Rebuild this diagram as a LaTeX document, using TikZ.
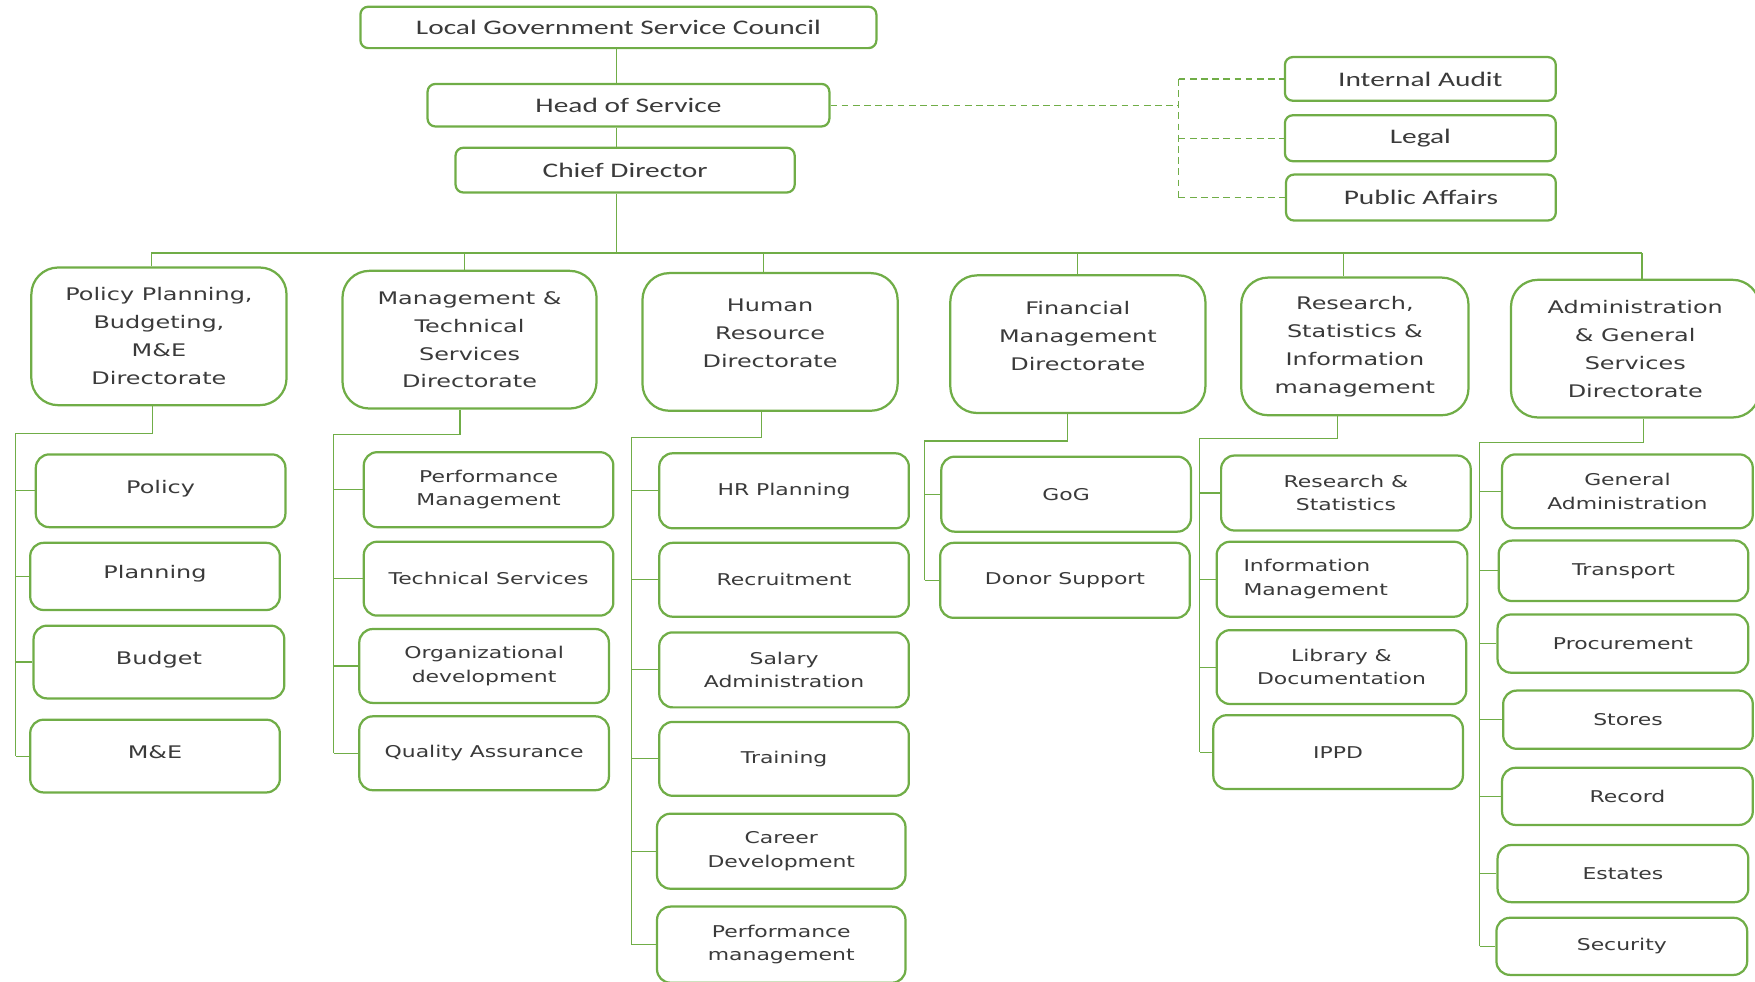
\documentclass[tikz,border=0pt]{standalone}
\usepackage{fontspec}
\newfontfamily\topfont[FakeStretch=1.42]{Carlito}
\newfontfamily\dirfont[FakeStretch=1.38]{DejaVu Sans}
\newfontfamily\subfont[FakeStretch=1.35]{DejaVu Sans}
\definecolor{orggreen}{HTML}{70AD47}
\definecolor{orgtext}{HTML}{3A3A3A}
\begin{document}
\begin{tikzpicture}[x=1pt,y=-1pt,
		topbox/.style={draw=orggreen, line width=2pt, rounded corners=7pt, inner sep=0pt, text=orgtext, font=\topfont\fontsize{18.5}{22}\selectfont},
		dirbox/.style={draw=orggreen, line width=2pt, rounded corners=24pt, inner sep=0pt, align=center, text=orgtext, minimum height=123pt, font=\dirfont\fontsize{15.5}{25}\selectfont},
		subbox/.style={draw=orggreen, line width=2pt, rounded corners=12pt, inner sep=0pt, align=center, text=orgtext, font=\subfont\fontsize{14.5}{21}\selectfont},
		bigsub/.style={subbox, font=\dirfont\fontsize{15.5}{21}\selectfont},
		link/.style={draw=orggreen, line width=1pt},
		dlink/.style={draw=orggreen, line width=1.2pt, dash pattern=on 6pt off 4pt}]
			\useasboundingbox (0,0) rectangle (1568,877);

			%top
			\node[topbox, minimum width=461pt, minimum height=37pt] (lgsc) at (552.5,24.5) {Local Government Service Council};
			\node[topbox, minimum width=359pt, minimum height=38pt] (hos) at (561.5,94) {Head of Service};
			\node[topbox, minimum width=303pt, minimum height=40pt] (cd) at (558.5,152) {Chief Director};

			\node[topbox, minimum width=242pt, minimum height=39pt] (audit) at (1269,70.5) {Internal Audit};
			\node[topbox, minimum width=242pt, minimum height=41pt] (legal) at (1269,123.5) {Legal};
			\node[topbox, minimum width=241pt, minimum height=41pt] (pubaff) at (1269.5,176.5) {Public Affairs};

			\coordinate (spine) at (551,43);
			\draw[link] (spine) -- (spine |- hos.north);
			\draw[link] (spine |- hos.south) -- (spine |- cd.north);

			\coordinate (dv) at (1053,94);
			\draw[dlink] (hos.east) -- (dv);
			\draw[dlink] (dv |- audit.west) -- (dv |- pubaff.west);
			\foreach \s in {audit,legal,pubaff}
				\draw[dlink] (dv |- \s.west) -- (\s.west);

			%directorates
			\node[dirbox, minimum width=228pt] (ppb) at (142,300.5) {Policy Planning,\\Budgeting,\\M\&E\\Directorate};
			\node[dirbox, minimum width=227pt] (mts) at (419.5,303.5) {Management \&\\Technical\\Services\\Directorate};
			\node[dirbox, minimum width=228pt] (hrd) at (688,305.5) {Human\\Resource\\Directorate\\[-10pt]\mbox{}};
			\node[dirbox, minimum width=228pt] (fmd) at (963,307.5) {Financial\\Management\\Directorate\\[-10pt]\mbox{}};
			\node[dirbox, minimum width=203pt] (rsi) at (1210.5,309.5) {Research,\\Statistics \&\\Information\\management};
			\node[dirbox, minimum width=222pt] (ags) at (1461,311.5) {Administration\\\& General\\Services\\Directorate};

			\coordinate (busl) at (135,226);
			\coordinate (busr) at (1467,226);
			\draw[link] (busl) -- (busr);
			\draw[link] (spine |- cd.south) -- (spine |- busl);
			\foreach \d/\x in {ppb/135,mts/415,hrd/682,fmd/963,rsi/1200,ags/1467}{
				\coordinate (t\d) at (\x,226);
				\draw[link] (t\d) -- (t\d |- \d.north);
			}

			%policy planning
			\node[bigsub, minimum width=223pt, minimum height=65pt] (pol) at (143.5,438.5) {\raisebox{7pt}{Policy}};
			\node[bigsub, minimum width=223pt, minimum height=60pt] (pla) at (138.5,515) {\raisebox{8pt}{Planning}};
			\node[bigsub, minimum width=224pt, minimum height=65pt] (bud) at (142,591.5) {\raisebox{7pt}{Budget}};
			\node[bigsub, minimum width=223pt, minimum height=65pt] (mae) at (138.5,675.5) {\raisebox{7pt}{M\&E}};

			%management and technical
			\node[subbox, minimum width=223pt, minimum height=67pt] (pmg) at (436.5,437.5) {Performance\\Management};
			\node[subbox, minimum width=223pt, minimum height=66pt] (tsv) at (436.5,517) {Technical Services};
			\node[subbox, minimum width=223pt, minimum height=66pt] (odv) at (432.5,595) {Organizational\\development};
			\node[subbox, minimum width=223pt, minimum height=66pt] (qas) at (432.5,673) {Quality Assurance};

			%human resource
			\node[subbox, minimum width=223pt, minimum height=67pt] (hrp) at (700.5,438.5) {HR Planning};
			\node[subbox, minimum width=223pt, minimum height=66pt] (rec) at (700.5,518) {Recruitment};
			\node[subbox, minimum width=223pt, minimum height=67pt] (sal) at (700.5,598.5) {Salary\\Administration};
			\node[subbox, minimum width=223pt, minimum height=66pt] (trn) at (700.5,678) {Training};
			\node[subbox, minimum width=222pt, minimum height=67pt] (car) at (698,760.5) {Career\\Development};
			\node[subbox, minimum width=222pt, minimum height=68pt] (pfm) at (698,844) {Performance\\management};

			%financial
			\node[subbox, minimum width=223pt, minimum height=67pt] (gog) at (952.5,441.5) {GoG};
			\node[subbox, minimum width=223pt, minimum height=67pt] (don) at (951.5,518.5) {Donor Support};

			%research
			\node[subbox, minimum width=223pt, minimum height=67pt] (rst) at (1202.5,440.5) {Research \&\\Statistics};
			\node[subbox, minimum width=224pt, minimum height=67pt, text width=176pt, align=left] (inf) at (1199,517.5) {Information\\Management};
			\node[subbox, minimum width=223pt, minimum height=66pt] (lib) at (1198.5,596) {Library \&\\Documentation};
			\node[subbox, minimum width=223pt, minimum height=66pt] (ipp) at (1195.5,672) {IPPD};

			%administration
			\node[subbox, minimum width=224pt, minimum height=66pt] (gad) at (1454,439) {General\\Administration};
			\node[subbox, minimum width=223pt, minimum height=54pt] (trp) at (1450.5,510) {Transport};
			\node[subbox, minimum width=224pt, minimum height=52pt] (prc) at (1450,575) {Procurement};
			\node[subbox, minimum width=223pt, minimum height=52pt] (sto) at (1454.5,643) {Stores};
			\node[subbox, minimum width=224pt, minimum height=51pt] (rcd) at (1454,711.5) {Record};
			\node[subbox, minimum width=224pt, minimum height=51pt] (est) at (1450,780.5) {Estates};
			\node[subbox, minimum width=224pt, minimum height=51pt] (sec) at (1449,845.5) {Security};

			%branches
			\foreach \d/\x/\y/\b/\e in {ppb/136/387/14/mae, mts/411/388/298/qas, hrd/680/391/564/pfm, fmd/954/394/826/don, rsi/1195/392/1072/ipp, ags/1468/395/1322/sec}{
				\coordinate (j\d) at (\x,\y);
				\coordinate (k\d) at (\b,\y);
				\draw[link] (j\d |- \d.south) -- (j\d) -- (k\d) -- (k\d |- \e.west);
			}
			\foreach \d/\s in {ppb/pol,ppb/pla,ppb/bud,ppb/mae,mts/pmg,mts/tsv,mts/odv,mts/qas,hrd/hrp,hrd/rec,hrd/sal,hrd/trn,hrd/car,hrd/pfm,fmd/gog,fmd/don,rsi/rst,rsi/inf,rsi/lib,rsi/ipp,ags/gad,ags/trp,ags/prc,ags/sto,ags/rcd,ags/est,ags/sec}
				\draw[link] (k\d |- \s.west) -- (\s.west);
\end{tikzpicture}
\end{document}
